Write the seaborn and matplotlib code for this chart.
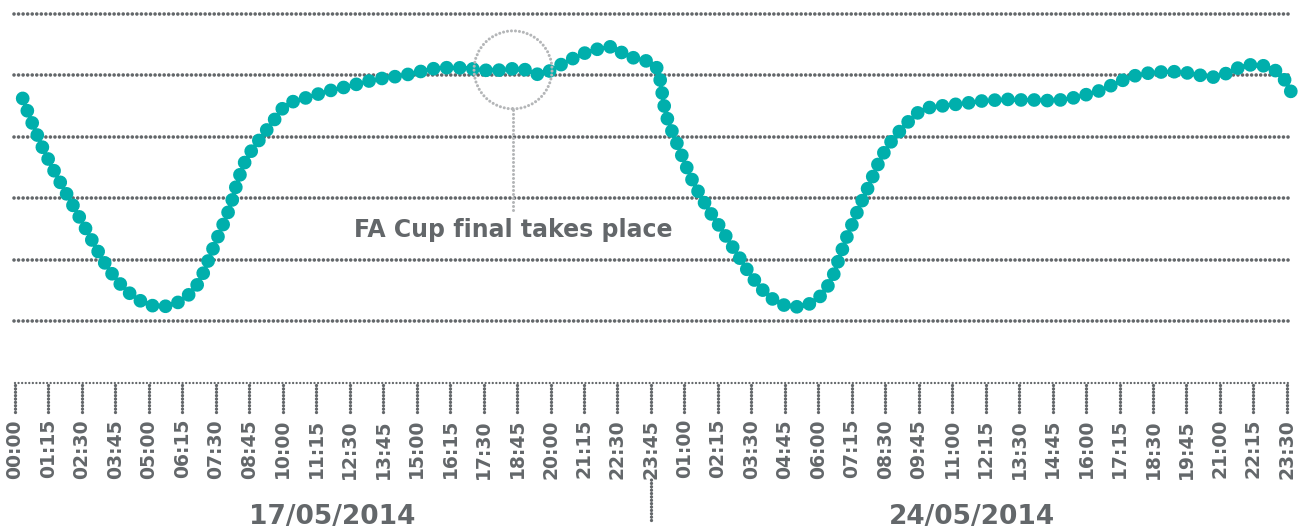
import numpy as np
import pandas as pd
import matplotlib
matplotlib.use("Agg")
import matplotlib.pyplot as plt
from matplotlib.patches import Ellipse
import seaborn as sns

# ---------------- data ----------------
day_labels = ["17/05/2014", "24/05/2014"]

# 15-minute readings, day 1 (00:00 .. 23:45) then day 2 (00:00 .. 23:30)
values_day1 = [
    72.5, 66.7, 61.5, 56.3, 51.9, 47.6, 43.6, 39.7, 35.7, 31.7,
    27.7, 23.7, 19.8, 16.4, 13.5, 11.0, 9.0, 7.4, 6.0, 5.2,
    4.7, 4.7, 5.0, 5.8, 7.1, 8.9, 11.5, 15.7, 21.2, 26.6,
    31.7, 37.1, 44.8, 51.0, 54.9, 58.0, 60.9, 63.8, 66.7, 69.8,
    71.1, 72.0, 72.5, 73.1, 73.8, 74.6, 75.1, 75.5, 76.1, 76.5,
    77.2, 77.8, 78.3, 78.8, 79.1, 79.4, 79.7, 80.1, 80.5, 81.0,
    81.6, 82.1, 82.3, 82.5, 82.5, 82.5, 82.4, 82.2, 81.9, 81.7,
    81.5, 81.7, 81.8, 82.1, 82.4, 81.9, 81.0, 80.3, 80.5, 81.8,
    83.0, 84.2, 85.3, 86.3, 87.3, 88.1, 88.6, 89.0, 89.4, 88.3,
    86.5, 85.9, 85.2, 84.8, 84.2, 81.8,
]
values_day2 = [
    67.7, 61.8, 56.5, 51.0, 46.0, 41.8, 38.0, 34.4, 31.2, 27.8,
    24.3, 20.9, 17.4, 14.2, 11.4, 9.0, 7.2, 5.7, 5.0, 4.5,
    4.7, 4.9, 6.2, 7.7, 10.3, 14.2, 20.6, 26.7, 32.0, 37.3,
    42.0, 47.1, 52.2, 56.2, 59.2, 61.8, 64.2, 66.6, 68.3, 69.3,
    69.8, 70.0, 70.2, 70.5, 70.7, 71.0, 71.2, 71.6, 71.8, 71.9,
    72.1, 72.2, 72.1, 72.0, 72.0, 72.0, 71.9, 71.8, 71.8, 72.0,
    72.3, 72.7, 73.2, 73.8, 74.4, 75.1, 76.1, 77.1, 78.1, 79.0,
    79.8, 80.3, 80.7, 80.9, 81.1, 81.1, 81.2, 81.0, 80.8, 80.4,
    80.0, 79.7, 79.4, 80.0, 80.8, 81.8, 82.9, 83.3, 83.6, 83.3,
    82.8, 81.8, 80.2, 77.0, 72.0,
]

tick_labels = [
    "00:00", "01:15", "02:30", "03:45", "05:00", "06:15", "07:30", "08:45",
    "10:00", "11:15", "12:30", "13:45", "15:00", "16:15", "17:30", "18:45",
    "20:00", "21:15", "22:30", "23:45",
    "01:00", "02:15", "03:30", "04:45", "06:00", "07:15", "08:30", "09:45",
    "11:00", "12:15", "13:30", "14:45", "16:00", "17:15", "18:30", "19:45",
    "21:00", "22:15", "23:30",
]
grid_values = [0, 20, 40, 60, 80, 100]
annotation_text = "FA Cup final takes place"
annotation_slot = 74.4
annotation_value = 81.8

values = values_day1 + values_day2
df = pd.DataFrame({"slot": np.arange(len(values)) + 1.15, "value": values})
tick_pos = np.arange(0, len(values), 5)

# ---------------- style ----------------
TEAL = "#00afac"
GREY = "#63676a"
LIGHT = "#b4b6b8"

sns.set_theme(style="white")
plt.rcParams["font.family"] = ["DejaVu Sans"]

W, H = 1304, 532
fig = plt.figure(figsize=(W / 100, H / 100), dpi=100)
# px mapping: x_px = 15 + 6.694*slot ; y_px = 321 - 3.07*value
sx, sy = 6.694, 3.07
base_px = 383
ax = fig.add_axes([0, (H - base_px) / H, 1, base_px / H])
ax.set_xlim(-15 / sx, (W - 15) / sx)
ax.set_ylim((321 - base_px) / sy, 321 / sy)
for s in ax.spines.values():
    s.set_visible(False)
ax.set_yticks([])

def v(px):
    return (321 - px) / sy

# grid lines (dotted)
ax.hlines(grid_values, -0.15, 190.5, colors=GREY, lw=2.6,
          linestyles=[(0, (0.01, 1.25))], zorder=1)

# main series as a chain of dots
sns.lineplot(data=df, x="slot", y="value", ax=ax, color=TEAL, lw=9.9,
             linestyle=(0, (0.001, 0.955)), dash_capstyle="round", zorder=3,
             legend=False)

# axis baseline + dotted ticks
ax.hlines([v(383)], 0, 190.5, colors=GREY, lw=1.7,
          linestyles=[(0, (0.01, 1.5))], clip_on=False, zorder=1)
ax.vlines(tick_pos, v(412), v(383), colors=GREY, lw=2.4,
          linestyles=[(0, (0.01, 1.0))], clip_on=False, zorder=1)
ax.vlines([95], v(520), v(479), colors=GREY, lw=2.4,
          linestyles=[(0, (0.01, 1.0))], clip_on=False, zorder=1)
for c in ax.collections:
    c.set_capstyle("round")

ax.set_xticks(tick_pos)
ax.set_xticklabels(tick_labels, rotation=90, fontsize=13.5, fontweight="bold",
                   color=GREY)
ax.tick_params(axis="x", length=0, pad=26)
ax.set_xlabel("")
ax.set_ylabel("")

# day labels
ax.text(47.4, v(517), day_labels[0], ha="center", va="center", fontsize=19,
        fontweight="bold", color=GREY, clip_on=False)
ax.text(143.0, v(517), day_labels[1], ha="center", va="center", fontsize=19,
        fontweight="bold", color=GREY, clip_on=False)

# annotation
ell = Ellipse((annotation_slot, annotation_value), 2 * 39 / sx, 2 * 39 / sy,
              fill=False, edgecolor=LIGHT, lw=2.2, ls=(0, (0.01, 1.3)), zorder=4)
ell.set_capstyle("round")
ax.add_patch(ell)
ax.vlines([annotation_slot], v(210), annotation_value - 39 / sy, colors=LIGHT,
          lw=2.2, linestyles=[(0, (0.01, 1.3))], zorder=4)
ax.collections[-1].set_capstyle("round")
ax.text(annotation_slot, v(230), annotation_text, ha="center", va="center",
        fontsize=17, fontweight="bold", color=GREY)

fig.savefig("out.png", dpi=100, facecolor="white")
